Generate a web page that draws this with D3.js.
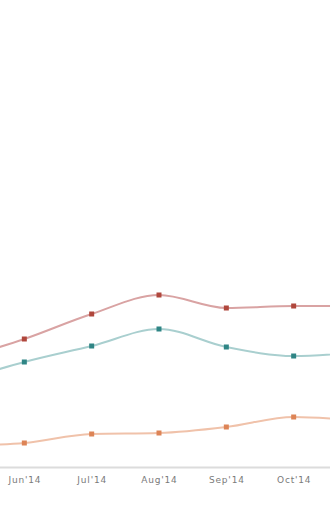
<!DOCTYPE html>
<html>
<head>
<meta charset="utf-8">
<script src="https://cdn.jsdelivr.net/npm/d3@7"></script>
<style>
  body { margin: 0; background: #fff; }
  svg { display: block; }
  .axis text { font-family: "DejaVu Sans", sans-serif; font-size: 9px; fill: #7a7a7a; letter-spacing: 0.8px; }
</style>
</head>
<body>
<script>
var months = ["May'14", "Jun'14", "Jul'14", "Aug'14", "Sep'14", "Oct'14", "Nov'14"];
var shownTicks = ["Jun'14", "Jul'14", "Aug'14", "Sep'14", "Oct'14"];
var seriesA = [54, 64.5, 77, 86.5, 80, 81, 81];
var seriesB = [43, 53, 61, 69.5, 60.5, 56, 58];
var seriesC = [11, 12.5, 17, 17.5, 20.5, 25.5, 23.5];

var lineColors = ["#d9a3a3", "#a9cfcf", "#f0c2aa"];
var dotColors = ["#b0473c", "#2f8585", "#dd8456"];

var width = 330, height = 512;

var x = d3.scalePoint()
  .domain(months)
  .range([-43, 361]);

var y = d3.scaleLinear()
  .domain([0, 200])
  .range([468, 68]);

var svg = d3.select("body").append("svg")
  .attr("width", width)
  .attr("height", height);

svg.append("g")
  .attr("class", "axis")
  .attr("transform", "translate(0,468)")
  .call(d3.axisBottom(x).tickValues(shownTicks).tickSize(0).tickPadding(9))
  .call(function(g) { g.select(".domain").remove(); });

svg.append("line")
  .attr("x1", 0)
  .attr("x2", width)
  .attr("y1", 467.5)
  .attr("y2", 467.5)
  .attr("stroke", "#dcdcdc")
  .attr("stroke-width", 2);

var line = d3.line()
  .x(function(d, i) { return x(months[i]); })
  .y(function(d) { return y(d); })
  .curve(d3.curveMonotoneX);

var all = [seriesA, seriesB, seriesC];

all.forEach(function(s, k) {
  svg.append("path")
    .datum(s)
    .attr("fill", "none")
    .attr("stroke", lineColors[k])
    .attr("stroke-width", 2)
    .attr("d", line);

  svg.selectAll(".dot" + k)
    .data(s)
    .enter().append("rect")
    .attr("x", function(d, i) { return x(months[i]) - 2.5; })
    .attr("y", function(d) { return y(d) - 2.5; })
    .attr("width", 5)
    .attr("height", 5)
    .attr("fill", dotColors[k]);
});
</script>
</body>
</html>
